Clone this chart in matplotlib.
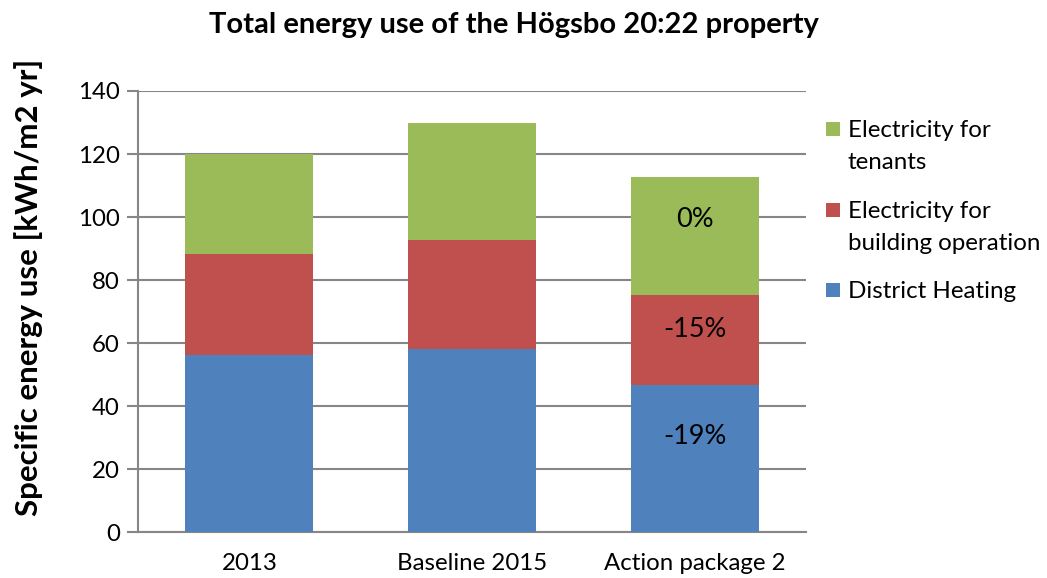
import matplotlib
matplotlib.use("Agg")
import matplotlib.pyplot as plt
from matplotlib.patches import Rectangle
import numpy as np

categories = ["2013", "Baseline 2015", "Action package 2"]
district_heating = [56.2, 58.2, 46.8]
elec_building = [32.2, 34.4, 28.5]
elec_tenants = [31.6, 37.1, 37.3]
change_labels = ["-19%", "-15%", "0%"]
legend_labels = [["Electricity for", "tenants"],
                 ["Electricity for", "building operation"],
                 ["District Heating"]]

plt.rcParams['font.family'] = ['Lato', 'DejaVu Sans']

W, H = 1047, 578
fig = plt.figure(figsize=(W / 100, H / 100), dpi=100)
ax = fig.add_axes([0.1318, 0.079, 0.638, 0.7636])

x = np.arange(len(categories))
w = 0.575
c_blue, c_red, c_green = "#4F81BD", "#C0504D", "#9BBB59"
dh = np.array(district_heating)
eb = np.array(elec_building)
et = np.array(elec_tenants)
b1 = ax.bar(x, dh, w, color=c_blue, zorder=3)
b2 = ax.bar(x, eb, w, bottom=dh, color=c_red, zorder=3)
b3 = ax.bar(x, et, w, bottom=dh + eb, color=c_green, zorder=3)

i = 2
pfs = 19.5
ax.text(x[i], dh[i] * 0.65, change_labels[0], ha="center", va="center", fontsize=pfs, zorder=4)
ax.text(x[i], dh[i] + eb[i] * 0.61, change_labels[1], ha="center", va="center", fontsize=pfs, zorder=4)
ax.text(x[i], dh[i] + eb[i] + et[i] * 0.64, change_labels[2], ha="center", va="center", fontsize=pfs, zorder=4)

fs = 17.3
ax.set_xlim(-0.5, 2.5)
ax.set_ylim(0, 140)
ax.set_yticks(np.arange(0, 141, 20))
ax.set_xticks(x)
ax.set_xticklabels(categories, fontsize=fs)
ax.tick_params(axis="y", labelsize=fs, length=8, width=1.5, color="#868686", direction="out", pad=5)
ax.tick_params(axis="x", length=0, pad=15)
ax.yaxis.grid(True, color="#868686", linewidth=1.5, zorder=0)
for s in ["top", "right"]:
    ax.spines[s].set_visible(False)
for s in ["left", "bottom"]:
    ax.spines[s].set_color("#868686")
    ax.spines[s].set_linewidth(1.5)

fig.text(29 / W, 0.502, "Specific energy use [kWh/m2 yr]", rotation=90, ha="center", va="center",
         fontsize=22.5, fontweight="bold")
fig.text(0.4905, 1 - 25 / H, "Total energy use of the Högsbo 20:22 property", ha="center", va="center",
         fontsize=21, fontweight="bold")

# manual legend (square aligned with first line, as in the reference)
colors = [c_green, c_red, c_blue]
sq_tops = [122, 203, 283]
lfs = 17.4
for col, top, lines in zip(colors, sq_tops, legend_labels):
    fig.patches.append(Rectangle((826 / W, 1 - (top + 14) / H), 14 / W, 14 / H,
                                 transform=fig.transFigure, facecolor=col, edgecolor="none"))
    for k, line in enumerate(lines):
        fig.text(848 / W, 1 - (top + 15 + 32 * k) / H, line, ha="left", va="baseline", fontsize=lfs)

fig.savefig("out.png", dpi=100)
